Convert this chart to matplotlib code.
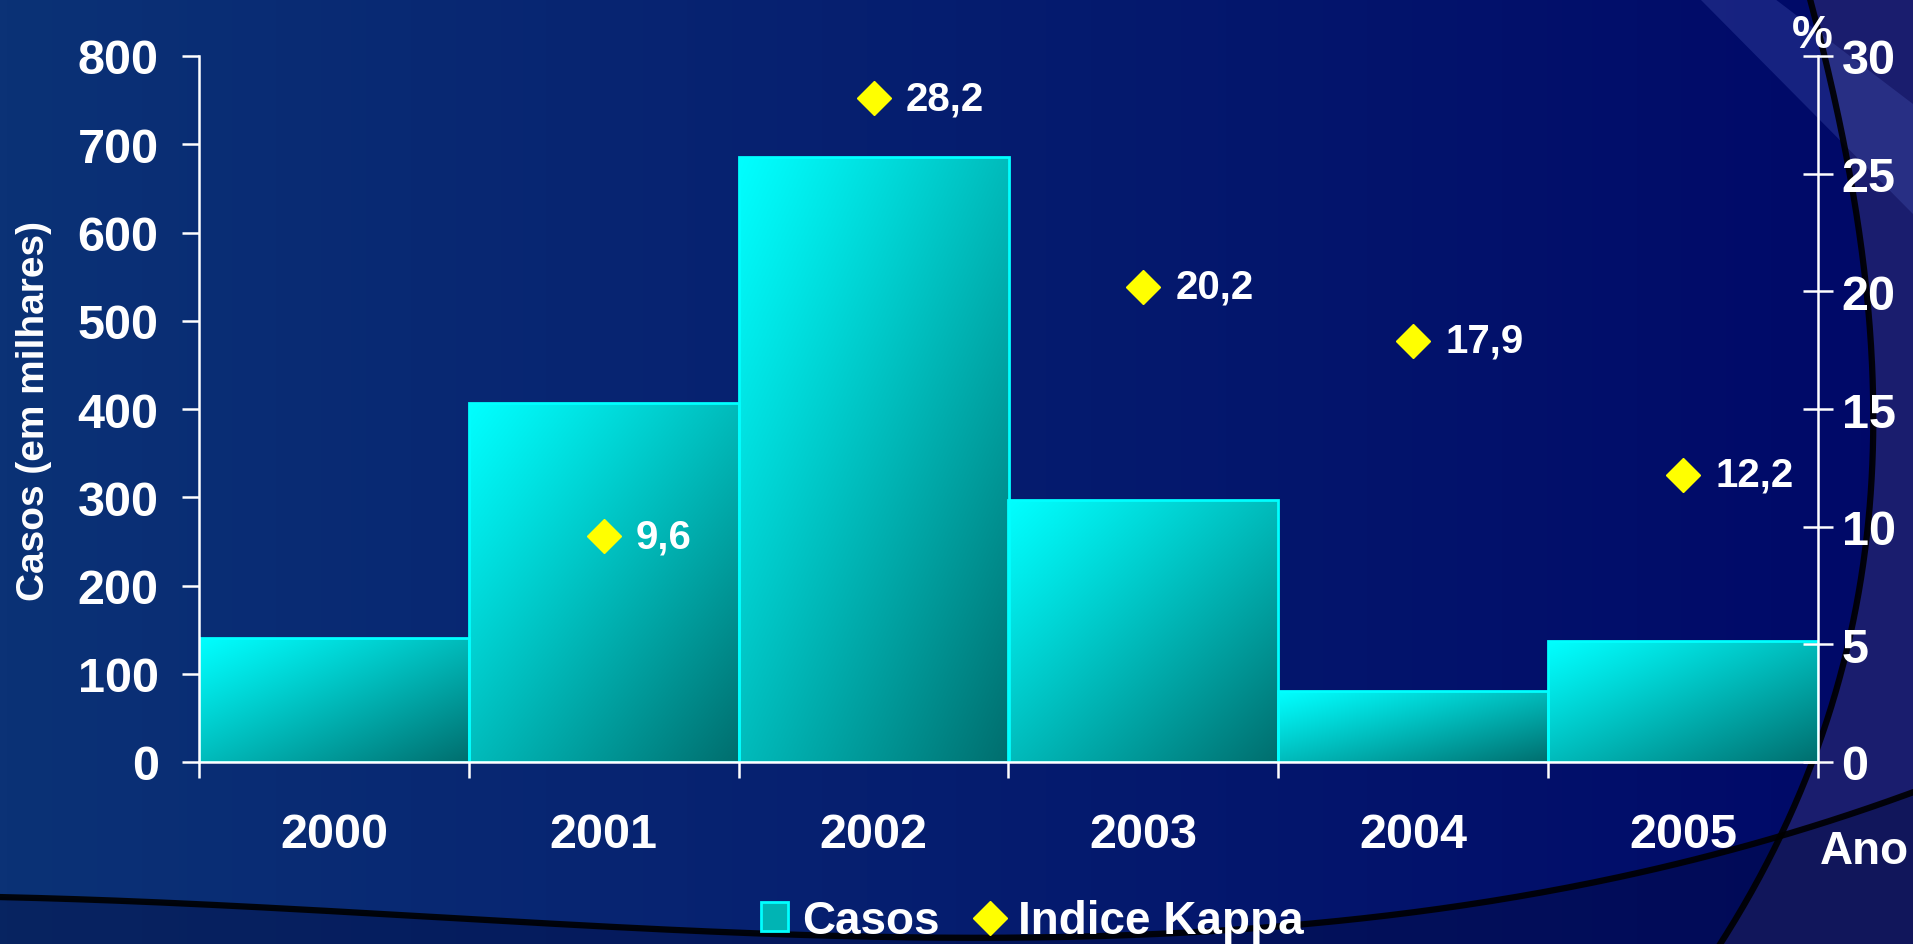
import numpy as np
import matplotlib
matplotlib.use("Agg")
import matplotlib.pyplot as plt
from matplotlib.patches import Patch, Polygon
from matplotlib.lines import Line2D

plt.rcParams['font.family'] = ['Liberation Sans', 'DejaVu Sans']
plt.rcParams['font.weight'] = 'bold'

# data
anos = ['2000', '2001', '2002', '2003', '2004', '2005']
casos = [141, 407, 685, 297, 80, 137]          # em milhares
kappa_anos = ['2001', '2002', '2003', '2004', '2005']
kappa = [9.6, 28.2, 20.2, 17.9, 12.2]           # %
kappa_txt = ['9,6', '28,2', '20,2', '17,9', '12,2']

W, H = 1913, 945
fig = plt.figure(figsize=(W / 100, H / 100), dpi=100)

# background (slide look)
bg = fig.add_axes([0, 0, 1, 1], zorder=-5)
bg.set_xlim(0, W)
bg.set_ylim(H, 0)
bg.axis('off')
c_left = np.array([11, 50, 118]) / 255
c_right = np.array([0, 8, 104]) / 255
t = np.linspace(0, 1, 256)[None, :, None]
grad = c_left * (1 - t) + c_right * t
bg.imshow(np.repeat(grad, 2, axis=0), extent=[0, W, H, 0], aspect='auto', zorder=0)

# big arc on the right
ya = np.array([0, 386, 663, 771, 945])
xa = np.array([1810, 1873, 1843, 1810, 1720])
pa = np.polyfit(ya, xa, 3)
yy = np.linspace(0, H, 200)
xx = np.polyval(pa, yy)
bg.fill_betweenx(yy, xx, W, color='#1a1d6e', zorder=1, lw=0)
# light stripe top-right
bg.add_patch(Polygon([[1700, 0], [1775, 0], [W, 105], [W, 215]], closed=True,
                     facecolor='#4a5ab8', alpha=0.3, lw=0, zorder=1))
# lower arc
xb = np.array([0, 312, 700, 900, 1309, 1582, 1757, 1913])
yb = np.array([897, 913, 933, 937, 920, 890, 847, 790])
pb = np.polyfit(xb, yb, 3)
xl = np.linspace(0, W, 300)
yl = np.polyval(pb, xl)
bg.fill_between(xl, yl, H, color='#020a3a', alpha=0.35, zorder=2, lw=0)
bg.plot(xl, yl, color='black', lw=4.5, alpha=0.9, zorder=3)
bg.plot(xx, yy, color='black', lw=4.5, alpha=0.9, zorder=3)

# main axes
ax = fig.add_axes([199 / W, 1 - 763 / H, (1818 - 199) / W, (763 - 57) / H])
ax.patch.set_alpha(0)
x = np.arange(len(anos))
bars = ax.bar(x, casos, width=1.0, facecolor='none', edgecolor='#00ffff', lw=2, zorder=3)

cyan = np.array([0, 255, 255]) / 255
teal = np.array([0, 110, 110]) / 255
u = np.linspace(0, 1, 200)
uu, vv = np.meshgrid(u, u)
tt = np.clip((uu + vv) / 2, 0, 1)[..., None] ** 1.1
gimg = cyan * (1 - tt) + teal * tt
for b in bars:
    x0, y0 = b.get_x(), b.get_y()
    w, h = b.get_width(), b.get_height()
    im = ax.imshow(gimg, extent=[x0, x0 + w, y0, y0 + h], origin='upper',
                   aspect='auto', zorder=2)
    im.set_clip_path(b)

ax.set_xlim(-0.5, len(anos) - 0.5)
ax.set_ylim(0, 800)
ax.set_yticks(range(0, 801, 100))
ax.set_xticks(np.arange(-0.5, len(anos)), [''] * (len(anos) + 1))
ax.set_xticks(x, anos, minor=True)
ax.tick_params(axis='x', which='major', direction='out', length=11.5, width=1.8, color='white')
ax.tick_params(axis='x', which='minor', length=0, pad=36, labelsize=35, labelcolor='white')
ax.tick_params(axis='y', direction='out', length=12, width=1.8, color='white',
               labelsize=35, labelcolor='white', pad=17)
for s in ['top', 'right']:
    ax.spines[s].set_visible(False)
for s in ['left', 'bottom']:
    ax.spines[s].set_color('white')
    ax.spines[s].set_linewidth(1.8)
    ax.spines[s].set_zorder(5)
ax.set_ylabel('Casos (em milhares)', fontsize=28, color='white', fontweight='bold')
ax.yaxis.set_label_coords(52 / W, 1 - 411 / H, transform=fig.transFigure)

# Indice Kappa on right axis
ax2 = ax.twinx()
ax2.set_ylim(0, 30)
ax2.set_yticks(range(0, 31, 5))
kx = [anos.index(a) for a in kappa_anos]
ax2.plot(kx, kappa, ls='none', marker='D', ms=17, color='#ffff00', zorder=6)
for xi, k, lab in zip(kx, kappa, kappa_txt):
    ax2.annotate(lab, (xi, k), xytext=(23, 0), textcoords='offset points',
                 va='center', ha='left', fontsize=29, color='white', fontweight='bold')
ax2.tick_params(axis='y', direction='inout', length=22, width=1.8, color='white',
                labelsize=35, labelcolor='white', pad=6)
for s in ['top', 'left', 'bottom']:
    ax2.spines[s].set_visible(False)
ax2.spines['right'].set_color('white')
ax2.spines['right'].set_linewidth(1.8)

fig.text(1812 / W, 1 - 36 / H, '%', fontsize=33, color='white', ha='center', va='center',
         fontweight='bold')
fig.text(1864 / W, 1 - 852 / H, 'Ano', fontsize=33, color='white', ha='center', va='center',
         fontweight='bold')

handles = [Patch(facecolor='#00b4b4', edgecolor='#00ffff', lw=2),
           Line2D([], [], ls='none', marker='D', ms=17, color='#ffff00')]
leg = fig.legend(handles, ['Casos', 'Indice Kappa'], loc='center',
                 bbox_to_anchor=(1032 / W, 1 - 922 / H), ncol=2, frameon=False,
                 fontsize=33, handlelength=0.6, handleheight=0.6, handletextpad=0.3,
                 columnspacing=0.8, borderpad=0)
for txt in leg.get_texts():
    txt.set_color('white')
    txt.set_fontweight('bold')

fig.savefig('out.png', dpi=100)
